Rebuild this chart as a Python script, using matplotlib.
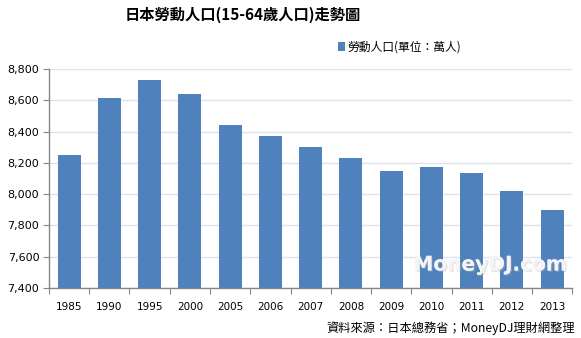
import matplotlib.pyplot as plt
import matplotlib.patheffects as pe
import numpy as np

plt.rcParams["font.family"] = ["DejaVu Sans", "Noto Sans CJK TC"]

years = ["1985", "1990", "1995", "2000", "2005", "2006", "2007",
         "2008", "2009", "2010", "2011", "2012", "2013"]
labor_force = [8252, 8614, 8730, 8640, 8442, 8372, 8300,
               8230, 8145, 8172, 8133, 8018, 7898]
y_ticks = [7400, 7600, 7800, 8000, 8200, 8400, 8600, 8800]

title = "日本勞動人口(15-64歲人口)走勢圖"
series_name = "勞動人口(單位：萬人)"
source_note = "資料來源：日本總務省；MoneyDJ理財網整理"

bar_color = "#4f81bd"
axis_color = "#868686"

fig = plt.figure(figsize=(5.81, 3.38), dpi=100)
ax = fig.add_axes([0.0843, 0.148, 0.9007, 0.648])

x = np.arange(len(years))
ax.bar(x, labor_force, width=0.57, color=bar_color, zorder=2,
       label=series_name)

ax.set_ylim(y_ticks[0], y_ticks[-1])
ax.set_xlim(-0.5, len(years) - 0.5)
ax.set_yticks(y_ticks)
ax.set_yticklabels([f"{v:,}" for v in y_ticks], fontsize=8)
ax.yaxis.grid(True, color="#dde3ee", linewidth=1.0, zorder=0)
ax.set_axisbelow(True)

# category labels sit between the boundary tick marks
ax.set_xticks(np.arange(len(years) + 1) - 0.5)
ax.set_xticklabels([])
ax.set_xticks(x, minor=True)
ax.set_xticklabels(years, minor=True, fontsize=7.5)
ax.tick_params(axis="x", which="major", length=4, color=axis_color)
ax.tick_params(axis="x", which="minor", length=0, pad=10)
ax.tick_params(axis="y", length=4, color=axis_color, pad=3)

for side in ("top", "right"):
    ax.spines[side].set_visible(False)
for side in ("left", "bottom"):
    ax.spines[side].set_color(axis_color)
    ax.spines[side].set_linewidth(1.0)

fig.text(0.418, 0.955, title, ha="center", va="center", fontsize=11,
         fontweight="bold", family=["Noto Sans CJK TC", "DejaVu Sans"])

leg = ax.legend(loc="lower left", bbox_to_anchor=(0.553, 1.07),
                frameon=False, handlelength=0.55, handleheight=0.75,
                handletextpad=0.2, borderaxespad=0, borderpad=0,
                prop={"family": ["Noto Sans CJK TC", "DejaVu Sans"],
                      "size": 8.5})

fig.text(0.99, 0.03, source_note, ha="right", va="center", fontsize=8.8,
         family=["Noto Sans CJK TC", "DejaVu Sans"])

# faint site watermark
ax.text(0.843, 0.105, "MoneyDJ.com", transform=ax.transAxes, ha="center",
        va="center", fontsize=14.5, fontweight="bold", color="#f4f4f4",
        zorder=3,
        path_effects=[pe.withSimplePatchShadow(offset=(1.0, -1.0),
                                               shadow_rgbFace="#b0b0b0",
                                               alpha=0.35),
                      pe.Normal()])

fig.savefig("out.png", dpi=100)
